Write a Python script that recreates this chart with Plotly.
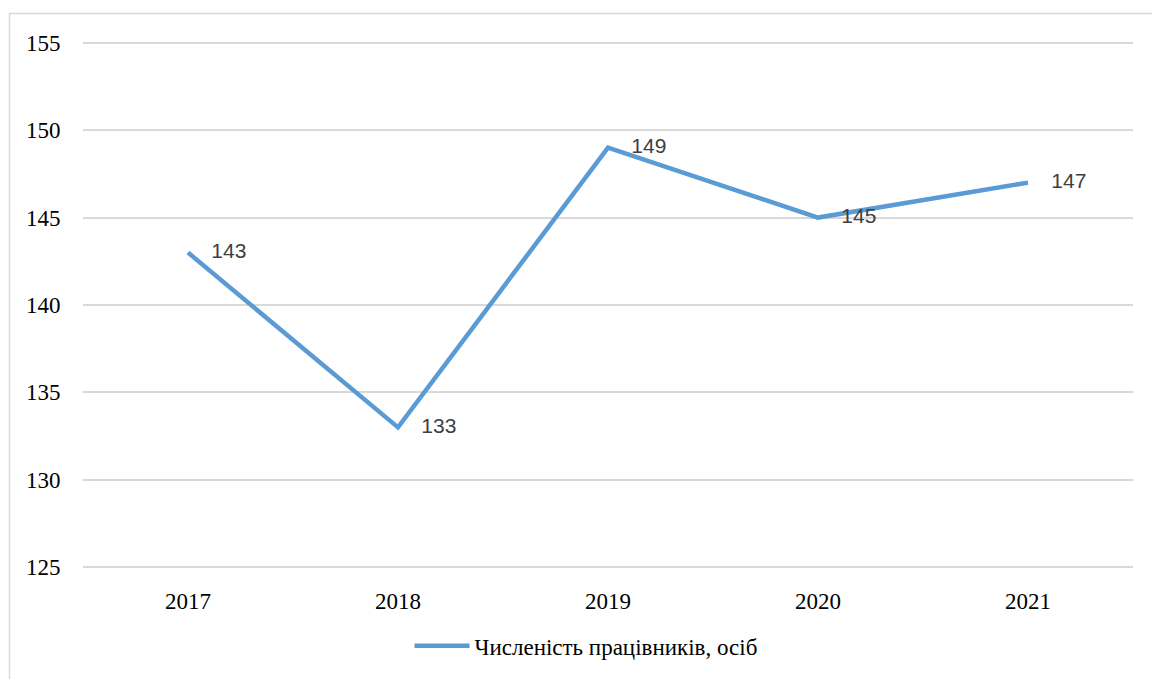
import plotly.graph_objects as go

# Staff headcount by year
years = ["2017", "2018", "2019", "2020", "2021"]
headcount = [143, 133, 149, 145, 147]
series_name = "Численість працівників, осіб"
y_ticks = [125, 130, 135, 140, 145, 150, 155]

LINE_BLUE = "#5B9BD5"
GRID_GREY = "#D9D9D9"
SERIF = "Times New Roman"
SANS = "Arial"

W, H = 1152, 679
L, R, T, B = 83, 19, 41, 108
plot_w = W - L - R
plot_h = H - T - B

fig = go.Figure()
fig.add_trace(go.Scatter(
    x=years, y=headcount, name=series_name, mode="lines+text",
    line=dict(color=LINE_BLUE, width=4.5),
    text=["    " + str(v) for v in headcount],
    textposition="middle right",
    textfont=dict(family=SANS, size=21, color="#404040"),
    cliponaxis=False,
))

def px_to_paper_x(px):
    return (px - L) / plot_w

def px_to_paper_y(py):
    return (H - B - py) / plot_h

# Outer chart frame
fig.add_shape(
    type="rect", xref="paper", yref="paper",
    x0=px_to_paper_x(9.5), x1=px_to_paper_x(1160),
    y0=px_to_paper_y(700), y1=px_to_paper_y(13.5),
    line=dict(color=GRID_GREY, width=1.5), layer="below",
)

fig.update_layout(
    width=W, height=H,
    margin=dict(l=L, r=R, t=T, b=B, pad=0),
    paper_bgcolor="white", plot_bgcolor="white",
    font=dict(family=SERIF, size=23, color="black"),
    showlegend=True,
    legend=dict(
        orientation="h", x=px_to_paper_x(586), xanchor="center",
        y=px_to_paper_y(648), yanchor="middle",
        itemwidth=55, font=dict(family=SERIF, size=23),
    ),
    xaxis=dict(
        type="category", categoryorder="array", categoryarray=years,
        range=[-0.5, len(years) - 0.5],
        showgrid=False, showline=False, zeroline=False,
        ticks="outside", ticklen=11, tickcolor="rgba(0,0,0,0)",
        tickfont=dict(family=SERIF, size=23),
    ),
    yaxis=dict(
        range=[124.9, 155.1], tickvals=y_ticks, showgrid=True, gridcolor=GRID_GREY,
        gridwidth=1.5, zeroline=False, showline=False,
        ticks="outside", ticklen=17, tickcolor="rgba(0,0,0,0)",
        tickfont=dict(family=SERIF, size=23),
    ),
)

fig.write_html("out.html")
